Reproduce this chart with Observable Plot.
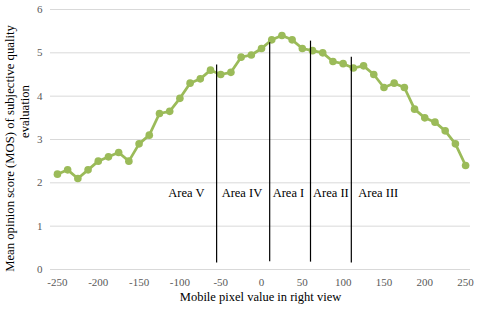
<!DOCTYPE html>
<html>
<head>
<meta charset="utf-8">
<script src="https://cdn.jsdelivr.net/npm/d3@7"></script>
<script src="https://cdn.jsdelivr.net/npm/@observablehq/plot@0.6"></script>
<style>
  html, body { margin: 0; padding: 0; background: #fff; }
  svg text { font-family: "Liberation Serif", "Times New Roman", serif; }
</style>
</head>
<body>
<div id="chart"></div>
<script>
const pixelValues = d3.range(-250, 250.1, 12.5);
const mosValues = [2.2, 2.3, 2.1, 2.3, 2.5, 2.6, 2.7, 2.5, 2.9, 3.1,
  3.6, 3.65, 3.95, 4.3, 4.4, 4.6, 4.5, 4.55, 4.9, 4.95,
  5.1, 5.3, 5.4, 5.3, 5.1, 5.05, 5.0, 4.8, 4.75, 4.65,
  4.7, 4.5, 4.2, 4.3, 4.2, 3.7, 3.5, 3.4, 3.2, 2.9, 2.4];
const xTicks = [-250, -200, -150, -100, -50, 0, 50, 100, 150, 200, 250];
const yTicks = [0, 1, 2, 3, 4, 5, 6];
const boundaryX = [-55, 10, 60, 110];
const boundaryTop = [4.72, 5.23, 5.27, 4.9];
const boundaryBottom = [0.15, 0.18, 0.17, 0.15];
const areaNames = ["Area V", "Area IV", "Area I", "Area II", "Area III"];
const areaLabelX = [-92, -24, 33, 85, 143];
const areaLabelY = 1.76;
const xTitle = "Mobile pixel value in right view";
const yTitleLine1 = "Mean opinion score (MOS) of subjective quality";
const yTitleLine2 = "evaluation";

const points = pixelValues.map((x, i) => ({x, y: mosValues[i]}));
const boundaries = boundaryX.map((x, i) => ({x, y1: boundaryBottom[i], y2: boundaryTop[i]}));
const labels = areaNames.map((name, i) => ({name, x: areaLabelX[i], y: areaLabelY}));

const font = "Liberation Serif, Times New Roman, serif";
const green = "#9BBB59";
const tickColor = "#595959";

const chart = Plot.plot({
  width: 480,
  height: 311,
  marginLeft: 50,
  marginRight: 10,
  marginTop: 9,
  marginBottom: 42,
  style: {fontFamily: font, fontSize: "11px", background: "#fff"},
  x: {domain: [-258.5, 256]},
  y: {domain: [0, 6]},
  marks: [
    Plot.ruleY(yTicks, {stroke: "#d9d9d9", strokeWidth: 1}),
    Plot.axisX(xTicks, {tickSize: 0, tickPadding: 9, label: null, tickFormat: d => String(d), fontFamily: font, fontSize: 11, fill: tickColor}),
    Plot.axisY(yTicks, {tickSize: 0, tickPadding: 8, label: null, tickFormat: d => String(d), fontFamily: font, fontSize: 11, fill: tickColor}),
    Plot.line(points, {x: "x", y: "y", stroke: green, strokeWidth: 2.75}),
    Plot.dot(points, {x: "x", y: "y", fill: green, r: 3.8}),
    Plot.ruleX(boundaries, {x: "x", y1: "y1", y2: "y2", stroke: "#000", strokeWidth: 1.2}),
    Plot.text(labels, {x: "x", y: "y", text: "name", fontSize: 12.5, fill: "#000", fontFamily: font}),
    Plot.text([xTitle], {frameAnchor: "bottom", dy: 31, fontSize: 12.5, fill: "#000", fontFamily: font}),
    Plot.text([yTitleLine1], {frameAnchor: "left", textAnchor: "middle", rotate: -90, dx: -41, dy: 9, fontSize: 12.7, fill: "#000", fontFamily: font}),
    Plot.text([yTitleLine2], {frameAnchor: "left", textAnchor: "middle", rotate: -90, dx: -26, dy: -28, fontSize: 12.7, fill: "#000", fontFamily: font})
  ]
});
document.getElementById("chart").appendChild(chart);
</script>
</body>
</html>
